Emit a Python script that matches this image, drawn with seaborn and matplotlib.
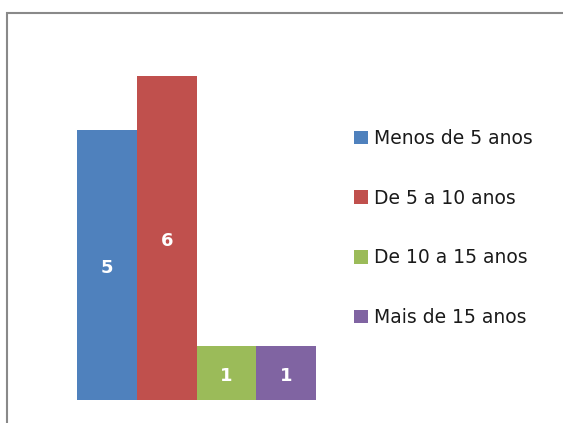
import matplotlib
matplotlib.use("Agg")
import matplotlib.pyplot as plt
import seaborn as sns
import pandas as pd
from matplotlib.patches import Rectangle

categories = ["Menos de 5 anos", "De 5 a 10 anos", "De 10 a 15 anos", "Mais de 15 anos"]
values = [5, 6, 1, 1]
colors = ["#4F81BD", "#C0504D", "#9BBB59", "#8064A2"]

sns.set_style("white")
plt.rcParams['font.family'] = ['DejaVu Sans']

W, H = 563, 423
fig = plt.figure(figsize=(W / 100, H / 100), dpi=100)
ax = fig.add_axes([77 / W, 23 / H, (316 - 77) / W, 378 / H])

df = pd.DataFrame({"cat": categories, "val": values})
sns.barplot(data=df, x="cat", y="val", hue="cat", palette=colors, width=1.0,
            dodge=False, legend=False, ax=ax, saturation=1, linewidth=0)
ax.set_xlim(-0.5, 3.5)
ax.set_ylim(0, 7)
ax.axis("off")

for i, v in enumerate(values):
    ax.annotate(str(v), (i, v / 2), xytext=(0, -2), textcoords="offset points",
                ha="center", va="center", color="white",
                fontsize=13, fontweight="bold")

handles = [Rectangle((0, 0), 1, 1, facecolor=c, edgecolor="none") for c in colors]
fig.legend(handles, categories, loc="upper left", bbox_to_anchor=(354 / W, 1 - 129 / H),
           frameon=False, fontsize=13.5, handlelength=0.75, handleheight=0.75,
           handletextpad=0.3, labelspacing=2.17, borderaxespad=0, borderpad=0,
           labelcolor="#1a1a1a")

fig.patches.append(Rectangle((7 / W, -0.1), 1.2, 1 - 13 / H + 0.1, transform=fig.transFigure,
                             fill=False, edgecolor="#898989", linewidth=1.5, figure=fig))

fig.savefig("out.png", dpi=100)
